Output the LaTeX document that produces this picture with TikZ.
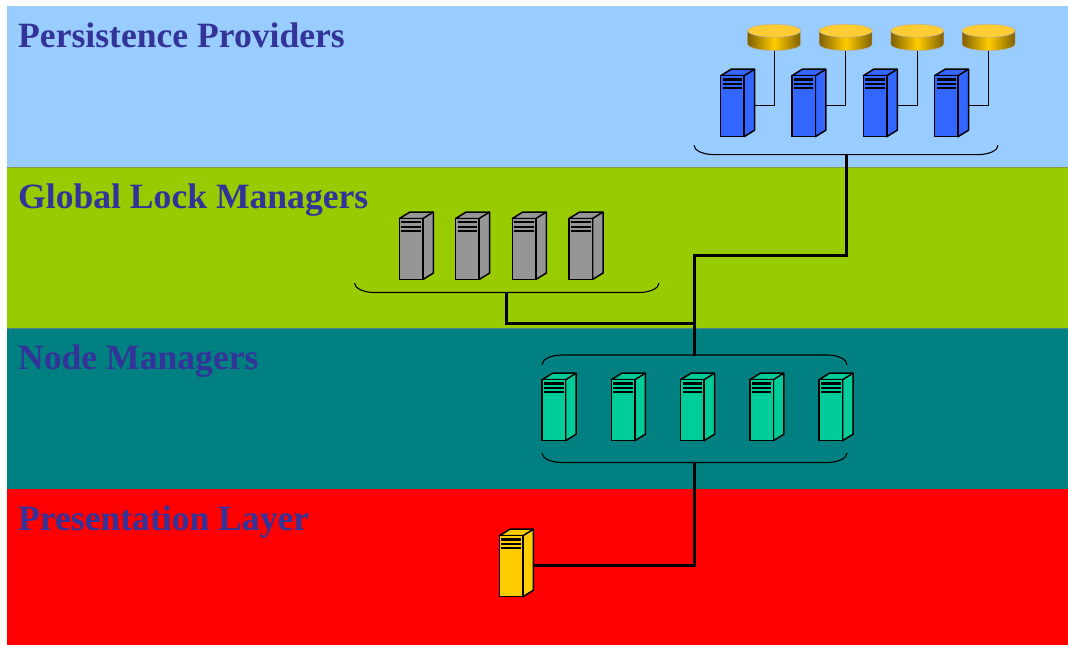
\documentclass[tikz,border=0pt]{standalone}
\usepackage{fontspec}
\setmainfont{Liberation Serif}
\usetikzlibrary{calc}
\definecolor{bandblue}{HTML}{99CCFF}
\definecolor{bandgreen}{HTML}{99CC00}
\definecolor{bandteal}{HTML}{008080}
\definecolor{bandred}{HTML}{FF0000}
\definecolor{labelblue}{HTML}{333399}
\definecolor{srvblue}{HTML}{3366FF}
\definecolor{srvgray}{HTML}{969696}
\definecolor{srvteal}{HTML}{00CC99}
\definecolor{srvyellow}{HTML}{FFCC00}
\definecolor{diskdark}{HTML}{7F6000}
\definecolor{disktop}{HTML}{FFCC33}
\tikzset{
  layer/.style={font=\fontsize{35.6}{38}\selectfont\bfseries, text=labelblue, anchor=base west, inner sep=0pt},
  server/.style={rectangle, draw=black, line width=1.5pt, fill=#1, minimum width=23.5pt, minimum height=61pt, inner sep=0pt, outer sep=0pt,
    path picture={
      \draw[line width=2.6pt] ($(path picture bounding box.north west)+(2,3.6)$) -- ++(19.5,0);
      \draw[line width=1.7pt] ($(path picture bounding box.north west)+(2,8.2)$) -- ++(19.5,0);
      \draw[line width=1.7pt] ($(path picture bounding box.north west)+(2,12.6)$) -- ++(19.5,0);
    },
    append after command={
      \pgfextra{\fill[#1, draw=black, line width=1.5pt, line join=round] (\tikzlastnode.north west) -- ++(10.5,-6.5) -- ++(23.5,0) -- ++(0,61) -- (\tikzlastnode.south east) -- (\tikzlastnode.north east) -- cycle;
      \draw[line width=1.5pt] (\tikzlastnode.north east) -- ++(10.5,-6.5);}
      coordinate (\tikzlastnode-side) at ($(\tikzlastnode.east)+(10.5,-.6)$)
    }},
  disk/.style={rectangle, minimum width=53pt, minimum height=20pt, inner sep=0pt, outer sep=0pt,
    append after command={
      \pgfextra{\shade[left color=diskdark, right color=diskdark, middle color=srvyellow, draw=gray!60, line width=.5pt]
        (\tikzlastnode.north west) -- ++(0,13.4) arc[start angle=180, end angle=360, x radius=26.5pt, y radius=6.5pt] -- (\tikzlastnode.north east) -- cycle;
      \draw[fill=disktop, draw=gray!60, line width=.5pt] (\tikzlastnode.north) ellipse [x radius=26.5pt, y radius=6.5pt];}
    }},
  link/.style={draw=black, line width=3pt, line join=miter},
  thinlink/.style={draw=black, line width=1.4pt},
  curly/.style={draw=black, line width=1.1pt}
}
\begin{document}
\begin{tikzpicture}[x=1pt,y=-1pt]
    \useasboundingbox (0,0) rectangle (1068,645);
    \fill [bandblue] (7,6) rectangle (1068,167);
    \fill [bandgreen] (7,167) rectangle (1068,328);
    \fill [bandteal] (7,328) rectangle (1068,489);
    \fill [bandred] (7,489) rectangle (1068,645);
    \draw [gray, densely dotted, line width=.6pt] (7,167) -- (1068,167);
    \draw [gray, densely dotted, line width=.6pt] (7,328) -- (1068,328);
    % layer names
    \node (ppname) [layer] at (18,47.5) {Persistence Providers};
    \node (glname) [layer] at (18,208.5) {Global Lock Managers};
    \node (nmname) [layer] at (18,369.5) {Node Managers};
    \node (plname) [layer] at (18,530.5) {Presentation Layer};
    % servers
    \foreach \i/\x in {1/732.4, 2/803.6, 3/875, 4/946.3}
      \node (pp\i) [server=srvblue] at (\x,106.2) {};
    \foreach \i/\x in {1/774.2, 2/845.7, 3/917.3, 4/988.5}
      \node (disk\i) [disk] at (\x,40.7) {};
    \foreach \i/\x in {1/411.2, 2/467.4, 3/524.1, 4/580.8}
      \node (gl\i) [server=srvgray] at (\x,249) {};
    \foreach \i/\x in {1/553.9, 2/623.1, 3/692.3, 4/761.6, 5/830.8}
      \node (nm\i) [server=srvteal] at (\x,410.2) {};
    \node (pl1) [server=srvyellow] at (511.2,566.2) {};
    % disk links
    \foreach \i in {1,2,3,4}
      \draw [thinlink] (disk\i.south) |- (pp\i-side);
    % braces
    \draw [curly] (694,145.3) arc[start angle=180, end angle=270, x radius=20pt, y radius=9.3pt] -- (978,154.6) arc[start angle=270, end angle=360, x radius=20pt, y radius=9.3pt];
    \draw [curly] (354.5,283) arc[start angle=180, end angle=270, x radius=20pt, y radius=9.5pt] -- (639,292.5) arc[start angle=270, end angle=360, x radius=20pt, y radius=9.5pt];
    \draw [curly] (542,364.7) arc[start angle=180, end angle=90, x radius=20pt, y radius=9.7pt] -- (827,355) arc[start angle=90, end angle=0, x radius=20pt, y radius=9.7pt];
    \draw [curly] (542,453) arc[start angle=180, end angle=270, x radius=20pt, y radius=9.5pt] -- (827,462.5) arc[start angle=270, end angle=360, x radius=20pt, y radius=9.5pt];
    \coordinate (ppbrace) at (846,153.5);
    \coordinate (glbrace) at (506,291.5);
    \coordinate (nmtop) at (694,356);
    \coordinate (nmbottom) at (694,461.5);
    \coordinate (ppbend) at (694,255);
    \coordinate (gljoin) at (694,323.5);
    % links
    \draw [link] (ppbrace) |- (ppbend) -- (nmtop);
    \draw [link] (glbrace) |- (gljoin);
    \draw [link] (nmbottom) |- (pl1-side);
\end{tikzpicture}
\end{document}
